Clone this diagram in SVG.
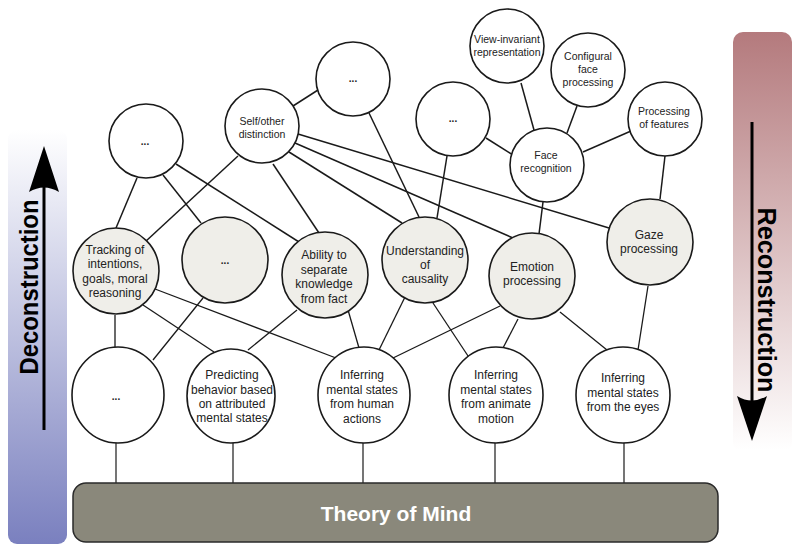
<svg xmlns="http://www.w3.org/2000/svg" width="800" height="554" viewBox="0 0 800 554">
<defs>
<linearGradient id="gl" x1="0" y1="130" x2="0" y2="544" gradientUnits="userSpaceOnUse">
<stop offset="0" stop-color="#ffffff"/>
<stop offset="1" stop-color="#7a80bf"/>
</linearGradient>
<linearGradient id="gr" x1="0" y1="32" x2="0" y2="450" gradientUnits="userSpaceOnUse">
<stop offset="0" stop-color="#b47a7d"/>
<stop offset="1" stop-color="#ffffff"/>
</linearGradient>
<style>
.n{stroke:#1a1a1a;stroke-width:1.6;fill:#ffffff}
.g{stroke:#1a1a1a;stroke-width:1.6;fill:#efeee9}
.e path,.e line{stroke:#1a1a1a;fill:none}
.t{font-family:"Liberation Sans",Arial,sans-serif;font-size:10.5px;fill:#222;text-anchor:middle}
.m{font-family:"Liberation Sans",Arial,sans-serif;font-size:12px;fill:#222;text-anchor:middle}
.d{font-family:"Liberation Sans",Arial,sans-serif;font-size:10px;font-weight:bold;fill:#222;text-anchor:middle}
.big{font-family:"Liberation Sans",Arial,sans-serif;font-weight:bold;fill:#000;text-anchor:middle}
</style>
</defs>

<g id="side-bars">
<rect x="8" y="130" width="59" height="414" rx="9" fill="url(#gl)"/>
<rect x="733" y="32" width="59" height="420" rx="10" fill="url(#gr)"/>
<line x1="44" y1="430" x2="44" y2="180" stroke="#000" stroke-width="3"/>
<path d="M44,146 L59,192 Q44,183 29,192 Z" fill="#000"/>
<line x1="752" y1="122" x2="752" y2="410" stroke="#000" stroke-width="3"/>
<path d="M752,441 L767,396 Q752,405 737,396 Z" fill="#000"/>
<text class="big" font-size="26" transform="translate(38,287) rotate(-90)" textLength="175" lengthAdjust="spacingAndGlyphs">Deconstruction</text>
<text class="big" font-size="26" transform="translate(758,300) rotate(90)" textLength="185" lengthAdjust="spacingAndGlyphs">Reconstruction</text>
</g>

<g id="connectors" class="e">
<g stroke-width="1.5">
<line x1="293" y1="106" x2="318" y2="90"/>
<line x1="369" y1="113" x2="419" y2="217"/>
<line x1="447" y1="156" x2="437" y2="218"/>
<line x1="486" y1="138" x2="513" y2="155"/>
<line x1="521" y1="83" x2="534" y2="130"/>
<line x1="577" y1="106" x2="567" y2="133"/>
<line x1="631" y1="131" x2="583" y2="152"/>
<line x1="665" y1="156" x2="660" y2="199"/>
<line x1="543" y1="202" x2="539" y2="234"/>
<line x1="298" y1="134" x2="609" y2="228"/>
<line x1="295" y1="143" x2="513" y2="238"/>
<line x1="289" y1="152" x2="402" y2="223"/>
<line x1="273" y1="164" x2="319" y2="233"/>
<line x1="238" y1="156" x2="145" y2="242"/>
<line x1="137" y1="178" x2="116" y2="228"/>
<line x1="163" y1="175" x2="201" y2="223"/>
<line x1="176" y1="164" x2="299" y2="242"/>
</g>
<g stroke-width="1.3">
<line x1="115" y1="315" x2="115" y2="348"/>
<line x1="203" y1="298" x2="153" y2="360"/>
<line x1="143" y1="305" x2="214" y2="352"/>
<line x1="155" y1="289" x2="336" y2="358"/>
<line x1="297" y1="310" x2="248" y2="350"/>
<line x1="346" y1="303" x2="359" y2="348"/>
<line x1="405" y1="297" x2="379" y2="350"/>
<line x1="433" y1="303" x2="472" y2="362"/>
<line x1="500" y1="306" x2="393" y2="358"/>
<line x1="518" y1="319" x2="503" y2="348"/>
<line x1="560" y1="312" x2="607" y2="350"/>
<line x1="648" y1="286" x2="638" y2="350"/>
</g>
<g stroke-width="1.2">
<line x1="116" y1="443" x2="116" y2="483"/>
<line x1="233" y1="443" x2="233" y2="483"/>
<line x1="363" y1="443" x2="363" y2="483"/>
<line x1="495" y1="443" x2="495" y2="483"/>
<line x1="624" y1="443" x2="624" y2="483"/>
</g>
</g>

<g id="theory-of-mind">
<rect x="73" y="483" width="645" height="59" rx="13" fill="#8a887b" stroke="#2a2a2a" stroke-width="1.5"/>
<text class="big" x="396" y="521" font-size="21" fill="#ffffff" style="fill:#ffffff">Theory of Mind</text>
</g>

<g id="dots-top"><circle class="n" cx="353" cy="79" r="37"/><text class="d" x="353" y="82">...</text></g>
<g id="self-other"><circle class="n" cx="262" cy="126" r="37"/><text class="t" x="262" y="125">Self/other</text><text class="t" x="262" y="138">distinction</text></g>
<g id="dots-mid"><circle class="n" cx="453" cy="119" r="37"/><text class="d" x="453" y="122">...</text></g>
<g id="dots-left"><circle class="n" cx="146" cy="141" r="37"/><text class="d" x="145" y="145">...</text></g>
<g id="view-invariant"><circle class="n" cx="507" cy="46" r="37"/><text class="t" x="507" y="43">View-invariant</text><text class="t" x="507" y="56">representation</text></g>
<g id="configural"><circle class="n" cx="588" cy="70" r="37"/><text class="t" x="588" y="60">Configural</text><text class="t" x="588" y="73">face</text><text class="t" x="588" y="86">processing</text></g>
<g id="features"><circle class="n" cx="665" cy="119" r="37"/><text class="t" x="664" y="115">Processing</text><text class="t" x="664" y="128">of features</text></g>
<g id="face-recognition"><circle class="n" cx="547" cy="165" r="37"/><text class="t" x="546" y="159">Face</text><text class="t" x="546" y="172">recognition</text></g>

<g id="tracking"><circle class="g" cx="116" cy="271" r="43"/><text class="m" x="115" y="254">Tracking of</text><text class="m" x="115" y="268">intentions,</text><text class="m" x="115" y="283">goals, moral</text><text class="m" x="115" y="297">reasoning</text></g>
<g id="dots-grey"><circle class="g" cx="225" cy="260" r="43"/><text class="d" x="225" y="264">...</text></g>
<g id="ability"><circle class="g" cx="325" cy="275" r="43"/><text class="m" x="324" y="259">Ability to</text><text class="m" x="324" y="274">separate</text><text class="m" x="324" y="288">knowledge</text><text class="m" x="324" y="303">from fact</text></g>
<g id="causality"><circle class="g" cx="425" cy="260" r="43"/><text class="m" x="425" y="255">Understanding</text><text class="m" x="425" y="269">of</text><text class="m" x="425" y="283">causality</text></g>
<g id="emotion"><circle class="g" cx="532" cy="276" r="43"/><text class="m" x="532" y="271">Emotion</text><text class="m" x="532" y="285">processing</text></g>
<g id="gaze"><circle class="g" cx="650" cy="242" r="43"/><text class="m" x="649" y="239">Gaze</text><text class="m" x="649" y="253">processing</text></g>

<g id="dots-bottom"><ellipse class="n" cx="118" cy="395" rx="46" ry="48"/><text class="d" x="116" y="400">...</text></g>
<g id="predicting"><ellipse class="n" cx="231" cy="396" rx="44" ry="47"/><text class="m" x="232" y="379">Predicting</text><text class="m" x="232" y="394">behavior based</text><text class="m" x="232" y="408">on attributed</text><text class="m" x="232" y="422">mental states</text></g>
<g id="human-actions"><ellipse class="n" cx="364" cy="395" rx="46" ry="48"/><text class="m" x="362" y="379">Inferring</text><text class="m" x="362" y="394">mental states</text><text class="m" x="362" y="408">from human</text><text class="m" x="362" y="423">actions</text></g>
<g id="animate-motion"><ellipse class="n" cx="496" cy="395" rx="47" ry="48"/><text class="m" x="496" y="379">Inferring</text><text class="m" x="496" y="394">mental states</text><text class="m" x="496" y="408">from animate</text><text class="m" x="496" y="423">motion</text></g>
<g id="eyes"><ellipse class="n" cx="623" cy="395" rx="47" ry="48"/><text class="m" x="623" y="382">Inferring</text><text class="m" x="623" y="397">mental states</text><text class="m" x="623" y="411">from the eyes</text></g>
</svg>
